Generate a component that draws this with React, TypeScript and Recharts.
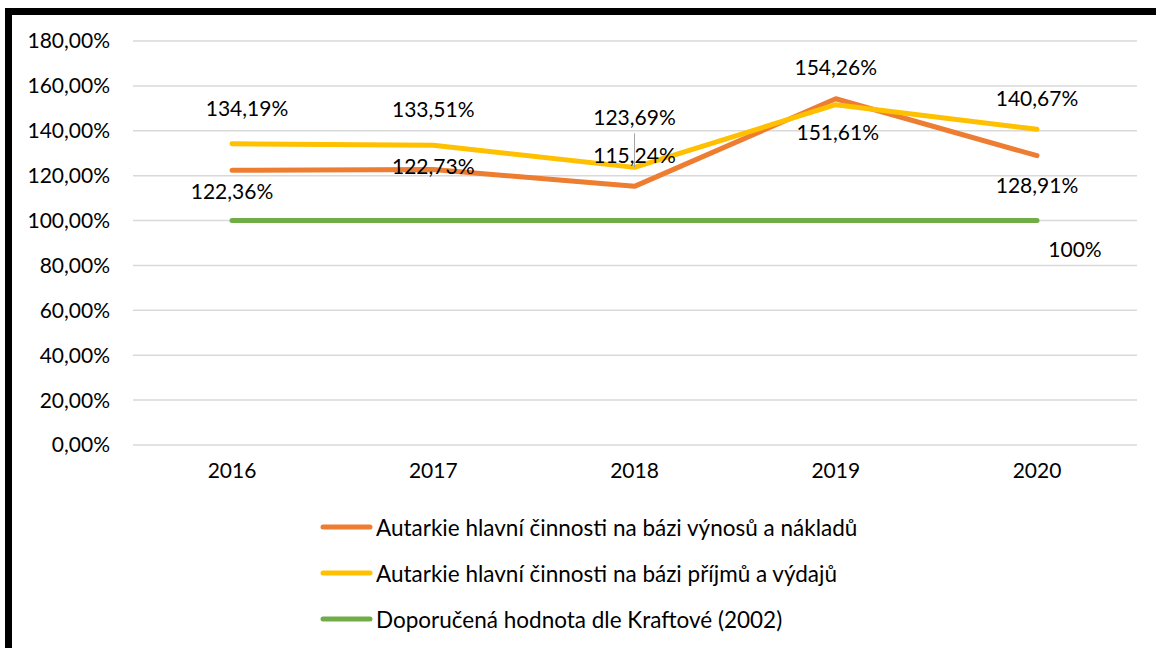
import React from 'react';
import { LineChart, Line, XAxis, YAxis, CartesianGrid, Legend } from 'recharts';

const years = ['2016', '2017', '2018', '2019', '2020'];
const vynosyNaklady = [122.36, 122.73, 115.24, 154.26, 128.91];
const prijmyVydaje = [134.19, 133.51, 123.69, 151.61, 140.67];
const doporucena = [100, 100, 100, 100, 100];
const yTicks = [0, 20, 40, 60, 80, 100, 120, 140, 160, 180];

const seriesNames = [
  'Autarkie hlavní činnosti na bázi výnosů a nákladů',
  'Autarkie hlavní činnosti na bázi příjmů a výdajů',
  'Doporučená hodnota dle Kraftové (2002)',
];
const colors = ['#ED7D31', '#FFC000', '#70AD47'];

const data = years.map((y, i) => ({
  year: y,
  a: vynosyNaklady[i],
  b: prijmyVydaje[i],
  c: doporucena[i],
}));

const FONT = 'Lato, "Open Sans", sans-serif';
const FS = 21;

const fmt2 = (v: number) => v.toFixed(2).replace('.', ',') + '%';

const offA = [[0, 20], [0, -4], [0, -32], [0, -32], [0, 29]];
const offB = [[15, -36], [0, -37], [0, -51], [2, 27], [0, -32]];
const offC = [[0, 0], [0, 0], [0, 0], [0, 0], [38, 28]];

const makeLabel = (offs: number[][], format: (v: number) => string, only?: number[], leader?: number) => (props: any) => {
  const { x, y, value, index } = props;
  if (only && !only.includes(index)) return null;
  const [dx, dy] = offs[index];
  return (
    <g>
      {leader === index && (
        <line x1={x} y1={y - 34} x2={x} y2={y} stroke="#A6A6A6" strokeWidth={1} />
      )}
      <text
        x={x + dx}
        y={y + dy}
        textAnchor="middle"
        dominantBaseline="central"
        fontFamily={FONT}
        fontSize={FS}
        fill="#000"
      >
        {format(value)}
      </text>
    </g>
  );
};

const LegendContent = () => (
  <div style={{ fontFamily: FONT, fontSize: 22.5, color: '#000' }}>
    {seriesNames.map((n, i) => (
      <div key={n} style={{ display: 'flex', alignItems: 'center', height: 46 }}>
        <svg width={57} height={10}>
          <line x1={4} y1={5} x2={51} y2={5} stroke={colors[i]} strokeWidth={5} strokeLinecap="round" />
        </svg>
        <span style={{ whiteSpace: 'nowrap' }}>{n}</span>
      </div>
    ))}
  </div>
);

export default function App() {
  return (
    <div style={{ position: 'absolute', left: 0, top: 0, width: 1156, height: 648, background: '#fff', overflow: 'hidden' }}>
      <div style={{ position: 'absolute', left: 5, top: 8, width: 1151, height: 7, background: '#000' }} />
      <div style={{ position: 'absolute', left: 5, top: 8, width: 7, height: 640, background: '#000' }} />
      <div style={{ position: 'absolute', left: 0, top: 0 }}>
        <LineChart width={1156} height={648} data={data} margin={{ top: 41, right: 19, left: 0, bottom: 163 }}>
          <CartesianGrid vertical={false} stroke="#D9D9D9" strokeWidth={1.5} />
          <XAxis
            dataKey="year"
            axisLine={false}
            tickLine={false}
            padding={{ left: 99, right: 100 }}
            height={40}
            tickMargin={12}
            tick={{ fontFamily: FONT, fontSize: FS, fill: '#000' }}
          />
          <YAxis
            domain={[0, 180]}
            ticks={yTicks}
            width={133}
            axisLine={false}
            tickLine={false}
            tickMargin={17}
            tickFormatter={fmt2}
            tick={{ fontFamily: FONT, fontSize: FS, fill: '#000' }}
          />
          <Legend
            layout="horizontal"
            verticalAlign="middle"
            align="center"
            content={<LegendContent />}
            wrapperStyle={{ top: 504, left: 319, width: 760, height: 140 }}
          />
          <Line
            dataKey="a"
            name={seriesNames[0]}
            stroke={colors[0]}
            strokeWidth={5}
            strokeLinecap="round"
            strokeLinejoin="round"
            dot={false}
            isAnimationActive={false}
            label={makeLabel(offA, fmt2)}
          />
          <Line
            dataKey="b"
            name={seriesNames[1]}
            stroke={colors[1]}
            strokeWidth={5}
            strokeLinecap="round"
            strokeLinejoin="round"
            dot={false}
            isAnimationActive={false}
            label={makeLabel(offB, fmt2, undefined, 2)}
          />
          <Line
            dataKey="c"
            name={seriesNames[2]}
            stroke={colors[2]}
            strokeWidth={5}
            strokeLinecap="round"
            strokeLinejoin="round"
            dot={false}
            isAnimationActive={false}
            label={makeLabel(offC, (v) => `${v}%`, [4])}
          />
        </LineChart>
      </div>
    </div>
  );
}
